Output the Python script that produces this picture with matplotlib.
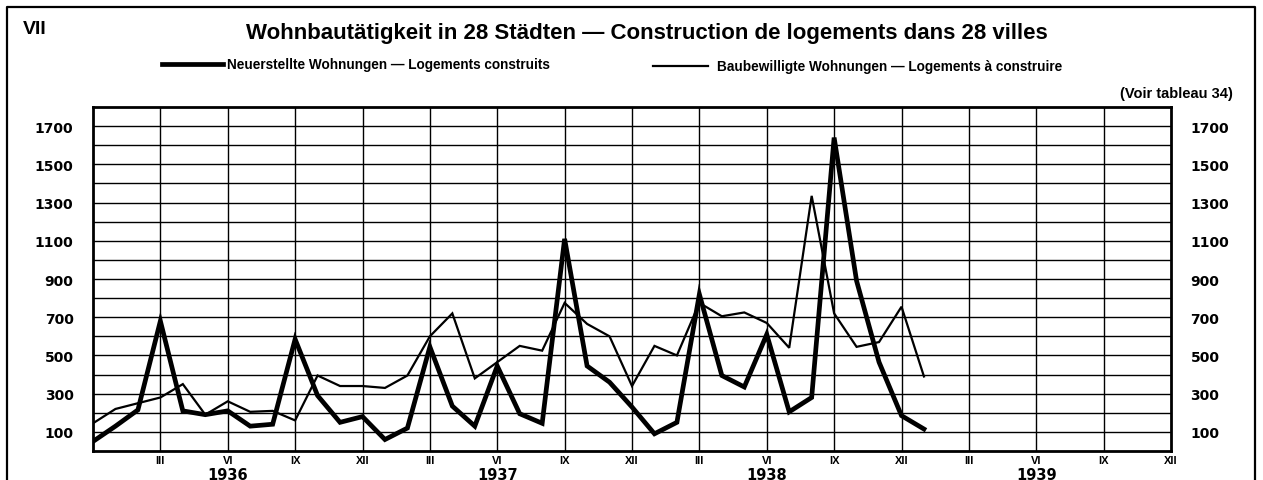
import numpy as np
import matplotlib.pyplot as plt
from matplotlib.lines import Line2D
from matplotlib.transforms import blended_transform_factory

# Monthly values, Dec 1935 (index 0) to Jan 1939
built = [50, 130, 215, 680, 210, 190, 210, 130, 140, 585, 290, 150, 180,
         60, 120, 545, 235, 130, 445, 195, 145, 1110, 445, 360, 230, 90,
         150, 820, 395, 335, 610, 205, 280, 1640, 890, 465, 185, 115]
permitted = [145, 220, 250, 280, 350, 190, 260, 205, 210, 160, 395, 340, 340,
             330, 395, 600, 720, 380, 465, 550, 525, 775, 665, 600, 340, 550,
             500, 775, 705, 725, 670, 540, 1335, 720, 545, 570, 755, 390]

month_labels = ['III', 'VI', 'IX', 'XII'] * 4
years = ['1936', '1937', '1938', '1939']
yticks = [100, 300, 500, 700, 900, 1100, 1300, 1500, 1700]

plt.rcParams['font.family'] = ['DejaVu Sans']

fig = plt.figure(figsize=(12.63, 4.81), dpi=100)
ax = fig.add_axes([93 / 1263, 29 / 481, 1078 / 1263, 344 / 481])

x = np.arange(len(built))
ax.plot(x, permitted, color='black', lw=1.6, solid_joinstyle='miter', zorder=3)
ax.plot(x, built, color='black', lw=3.4, solid_joinstyle='miter', zorder=4)

ax.set_xlim(0, 48)
ax.set_ylim(0, 1800)

# grid
for v in range(100, 1800, 100):
    ax.axhline(v, color='black', lw=1.0, zorder=1)
for q in np.arange(3, 48, 3):
    ax.axvline(q, color='black', lw=1.0, zorder=1)

for s in ax.spines.values():
    s.set_linewidth(2)

ax.set_yticks(yticks)
ax.set_yticklabels([str(v) for v in yticks], fontsize=10, fontweight='bold')
ax.tick_params(axis='y', length=0, pad=14, labelright=True)
ax.set_xticks(np.arange(3, 49, 3))
ax.set_xticklabels(month_labels, fontsize=8, fontweight='bold',
                   family='Liberation Sans')
ax.tick_params(axis='x', length=0, pad=3)

tr = blended_transform_factory(ax.transData, fig.transFigure)
for i, yr in enumerate(years):
    ax.text(6 + 12 * i, 1 - 480 / 481, yr, transform=tr, ha='center',
            va='baseline', fontsize=10.5, fontweight='bold')

# header texts
fig.text(35 / 1263, 1 - 30 / 481, 'VII', fontsize=14, fontweight='bold',
         ha='center', va='center', family='Liberation Sans')
fig.text(647 / 1263, 1 - 34 / 481,
         'Wohnbautätigkeit in 28 Städten — Construction de logements dans 28 villes',
         fontsize=16, fontweight='bold', ha='center', va='center',
         family='Liberation Sans')

fig.add_artist(Line2D([162 / 1263, 223 / 1263], [1 - 65 / 481] * 2,
                      color='black', lw=3.4))
fig.text(227 / 1263, 1 - 65 / 481, 'Neuerstellte Wohnungen — Logements construits',
         fontsize=9.8, fontweight='bold', ha='left', va='center',
         family='Liberation Sans')
fig.add_artist(Line2D([653 / 1263, 708 / 1263], [1 - 67 / 481] * 2,
                      color='black', lw=1.6))
fig.text(717 / 1263, 1 - 67 / 481, 'Baubewilligte Wohnungen — Logements à construire',
         fontsize=9.8, fontweight='bold', ha='left', va='center',
         family='Liberation Sans')
fig.text(1233 / 1263, 1 - 94 / 481, '(Voir tableau 34)', fontsize=10.5,
         fontweight='bold', ha='right', va='center', family='Liberation Sans')

# outer frame
fl, fr, ft = 7 / 1263, 1255 / 1263, 1 - 8 / 481
fig.add_artist(Line2D([fl, fl, fr, fr], [0, ft, ft, 0], color='black', lw=1.6))

fig.savefig('out.png', dpi=100)
